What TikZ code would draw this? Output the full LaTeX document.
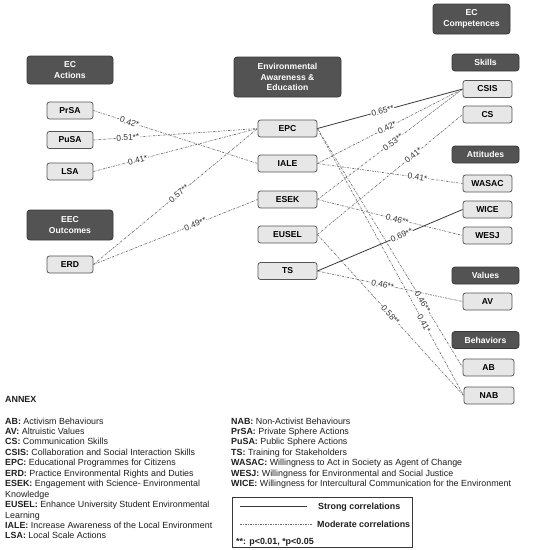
\documentclass[tikz,border=0pt]{standalone}
\usepackage{fontspec}
\setmainfont{Liberation Sans}
\definecolor{hdrfill}{HTML}{535353}
\definecolor{hdrline}{HTML}{383838}
\definecolor{boxfill}{HTML}{E7E7E7}
\definecolor{boxline}{HTML}{555555}
\definecolor{modline}{HTML}{6E6E6E}
\definecolor{strongline}{HTML}{383838}
\definecolor{labtext}{HTML}{333333}
\definecolor{annextext}{HTML}{1E1E1E}
\begin{document}
\begin{tikzpicture}[x=1pt,y=-1pt,
  hdr/.style={draw=hdrline, fill=hdrfill, rounded corners=3pt, line width=0.8pt, text=white,
    font=\fontsize{8.6}{10.6}\selectfont\bfseries, align=center, inner sep=0pt},
  box/.style={draw=boxline, fill=boxfill, rounded corners=2.5pt, line width=0.8pt,
    font=\fontsize{8.6}{10}\selectfont\bfseries, inner sep=0pt, minimum height=17pt},
  lbox/.style={box, minimum width=46pt},
  mbox/.style={box, minimum width=59pt},
  rbox/.style={box, minimum width=49pt},
  rhdr/.style={hdr, minimum width=67pt, minimum height=17pt},
  mod/.style={draw=modline, line width=0.65pt, dash pattern=on 2.2pt off 1.1pt on 0.6pt off 1.1pt},
  strong/.style={draw=strongline, line width=0.8pt},
  lab/.style={font=\fontsize{8.4}{9}\selectfont, text=labtext, fill=white, inner sep=0.5pt, sloped},
  annex/.style={anchor=base west, inner sep=0pt, text=annextext, font=\fontsize{8.9}{10.5}\selectfont},
  legtext/.style={anchor=base west, inner sep=0pt, text=annextext, font=\fontsize{8.9}{10.5}\selectfont\bfseries},
]
\useasboundingbox (0,0) rectangle (533,550);

% left column
\node[hdr, minimum width=86pt, minimum height=28pt] (hA) at (70,70) {EC\\Actions};
\node[lbox] (PrSA) at (70,110.5) {PrSA};
\node[lbox] (PuSA) at (70,140) {PuSA};
\node[lbox] (LSA) at (70,171.5) {LSA};
\node[hdr, minimum width=86pt, minimum height=30pt] (hO) at (70,225) {EEC\\Outcomes};
\node[lbox] (ERD) at (70,264.5) {ERD};

% middle column
\node[hdr, minimum width=107pt, minimum height=40pt] (hM) at (287.5,77) {Environmental\\Awareness \&\\Education};
\node[mbox] (EPC) at (287.5,128.5) {EPC};
\node[mbox] (IALE) at (287.5,163.5) {IALE};
\node[mbox] (ESEK) at (287.5,199.5) {ESEK};
\node[mbox] (EUSEL) at (287.5,234.5) {EUSEL};
\node[mbox] (TS) at (287.5,271) {TS};

% right column
\node[hdr, minimum width=77pt, minimum height=30pt] (hC) at (471.5,19) {EC\\Competences};
\node[rhdr] (hS) at (485.5,62.5) {Skills};
\node[rbox] (CSIS) at (487.5,89) {CSIS};
\node[rbox] (CS) at (487.5,114.5) {CS};
\node[rhdr] (hAt) at (485.5,154.5) {Attitudes};
\node[rbox] (WASAC) at (487.5,183.5) {WASAC};
\node[rbox] (WICE) at (487.5,209.5) {WICE};
\node[rbox] (WESJ) at (487.5,235.5) {WESJ};
\node[rhdr] (hV) at (485.5,275.5) {Values};
\node[rbox] (AV) at (487.5,301.5) {AV};
\node[rhdr] (hB) at (485.5,340) {Behaviors};
\node[rbox, minimum width=51pt] (AB) at (488.5,367.5) {AB};
\node[rbox, minimum width=50pt] (NAB) at (489,395.5) {NAB};

% left connectors
\draw[mod] (PrSA.east) -- node[lab,pos=0.22]{0.42*} (IALE.west);
\draw[mod] (PuSA.east) -- node[lab,pos=0.21]{0.51**} (EPC.west);
\draw[mod] (LSA.east) -- node[lab,pos=0.27]{0.41*} (EPC.west);
\draw[mod] (ERD.east) -- node[lab,pos=0.52]{0.57**} (EPC.west);
\draw[mod] (ERD.east) -- node[lab,pos=0.62]{0.49**} (ESEK.west);

% right connectors
\draw[mod] (EPC.east) -- node[lab,pos=0.725]{0.46**} (AB.west);
\draw[mod] (EPC.east) -- node[lab,pos=0.73]{0.41*} (NAB.west);
\draw[mod] (EUSEL.east) -- node[lab,pos=0.5]{0.58**} (NAB.west);
\draw[mod] (TS.east) -- node[lab,pos=0.45]{0.46**} (AV.west);
\draw[mod] (ESEK.east) -- node[lab,pos=0.55]{0.46**} (WESJ.west);
\draw[mod] (IALE.east) -- node[lab,pos=0.69]{0.41*} (WASAC.west);
\draw[mod] (EUSEL.east) -- node[lab,pos=0.66]{0.41*} (CS.west);
\draw[mod] (ESEK.east) -- node[lab,pos=0.52]{0.53**} (CSIS.west);
\draw[mod] (IALE.east) -- node[lab,pos=0.48]{0.42*} (CSIS.west);
\draw[strong] (EPC.east) -- node[lab,pos=0.45]{0.65**} (CSIS.west);
\draw[strong] (TS.east) -- node[lab,pos=0.58]{0.69**} (WICE.west);

% annex
\node[legtext] (annex) at (5,402) {ANNEX};
\node[annex] (a1) at (5,424) {\textbf{AB:} Activism Behaviours};
\node[annex] (a2) at (5,434.45) {\textbf{AV:} Altruistic Values};
\node[annex] (a3) at (5,444.9) {\textbf{CS:} Communication Skills};
\node[annex] (a4) at (5,455.35) {\textbf{CSIS:} Collaboration and Social Interaction Skills};
\node[annex] (a5) at (5,465.8) {\textbf{EPC:} Educational Programmes for Citizens};
\node[annex] (a6) at (5,476.25) {\textbf{ERD:} Practice Environmental Rights and Duties};
\node[annex] (a7) at (5,486.7) {\textbf{ESEK:} Engagement with Science- Environmental};
\node[annex] (a8) at (5,497.15) {Knowledge};
\node[annex] (a9) at (5,507.6) {\textbf{EUSEL:} Enhance University Student Environmental};
\node[annex] (a10) at (5,518.05) {Learning};
\node[annex] (a11) at (5,528.5) {\textbf{IALE:} Increase Awareness of the Local Environment};
\node[annex] (a12) at (5,538.95) {\textbf{LSA:} Local Scale Actions};

\node[annex] (b1) at (231,424) {\textbf{NAB:} Non-Activist Behaviours};
\node[annex] (b2) at (231,434.45) {\textbf{PrSA:} Private Sphere Actions};
\node[annex] (b3) at (231,444.9) {\textbf{PuSA:} Public Sphere Actions};
\node[annex] (b4) at (231,455.35) {\textbf{TS:} Training for Stakeholders};
\node[annex] (b5) at (231,465.8) {\textbf{WASAC:} Willingness to Act in Society as Agent of Change};
\node[annex] (b6) at (231,476.25) {\textbf{WESJ:} Willingness for Environmental and Social Justice};
\node[annex] (b7) at (231,486.7) {\textbf{WICE:} Willingness for Intercultural Communication for the Environment};

% legend
\node[draw=strongline, line width=0.6pt, minimum width=180pt, minimum height=50pt, inner sep=0pt] (legend) at (322,522) {};
\coordinate (s1) at (240,506);
\coordinate (s2) at (307,506);
\draw[strong, line width=0.6pt] (s1) -- (s2);
\node[legtext] (ls) at (318,509) {Strong correlations};
\coordinate (m1) at (240,524);
\coordinate (m2) at (313,524);
\draw[mod] (m1) -- (m2);
\node[legtext] (lm) at (317,527) {Moderate correlations};
\node[legtext] (lp) at (236,544.5) {**: p<0.01, *p<0.05};
\end{tikzpicture}
\end{document}
